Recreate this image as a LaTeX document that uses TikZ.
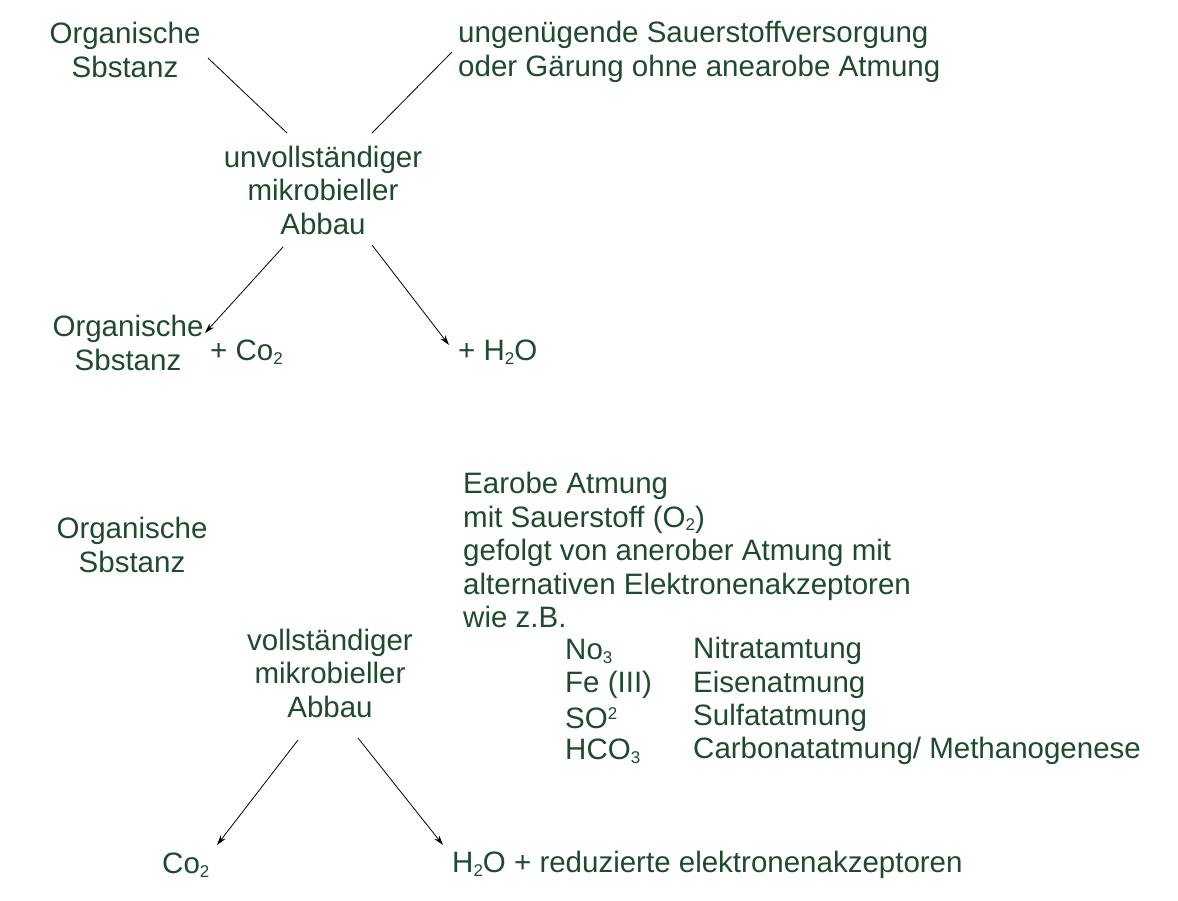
\documentclass[tikz,border=0pt]{standalone}
\usepackage{fontspec}
\setmainfont{Liberation Sans}
\usetikzlibrary{arrows.meta}
\definecolor{tg}{HTML}{1F4A2E}
\newcommand{\lsub}[1]{\raisebox{-0.25ex}{\fontsize{17}{17}\selectfont #1}}
\newcommand{\lsup}[1]{\raisebox{0.6ex}{\fontsize{17}{17}\selectfont #1}}
\begin{document}
\begin{tikzpicture}[x=1pt,y=-1pt,
  every node/.style={text=tg,font=\fontsize{29.5}{33.5}\selectfont,inner sep=0pt},
  cl/.style={align=center},
  ll/.style={align=left,anchor=west},
  ln/.style={draw=black,line width=0.8pt},
  ar/.style={ln,-{Stealth[length=10pt,width=6pt]}}]
\useasboundingbox (0,0) rectangle (1178,900);
\node[cl] (os1) at (125,50) {Organische\\Sbstanz};
\node[ll] (sauer) at (458,52) {ungenügende Sauerstoffversorgung\\oder Gärung ohne anearobe Atmung};
\node[cl] (ab1) at (323,190) {unvollständiger\\mikrobieller\\Abbau};
\coordinate (a1) at (208,58); \coordinate (a2) at (287,133);
\coordinate (b1) at (452,52); \coordinate (b2) at (372,133);
\draw[ln] (a1) -- (a2); \draw[ln] (b1) -- (b2);
\node[cl] (os2) at (128,343) {Organische\\Sbstanz};
\node[ll] (co1) at (210,352) {+ Co\lsub{2}};
\node[ll] (h1) at (458,352) {+ H\lsub{2}O};
\coordinate (c1) at (283,247); \coordinate (c2) at (205,333);
\coordinate (d1) at (372,245); \coordinate (d2) at (449,345);
\draw[ar] (c1) -- (c2); \draw[ar] (d1) -- (d2);
\node[cl] (os3) at (132,545) {Organische\\Sbstanz};
\node[cl] (ab2) at (330,673) {vollständiger\\mikrobieller\\Abbau};
\node[ll,anchor=north west] (ea) at (463,472) {Earobe Atmung\\mit Sauerstoff (O\lsub{2})\\gefolgt von anerober Atmung mit\\alternativen Elektronenakzeptoren\\wie z.B.};
\node[ll] (n1) at (565,651) {No\lsub{3}};
\node[ll] (n2) at (565,685) {Fe (III)};
\node[ll] (n3) at (565,718) {SO\lsup{2}};
\node[ll] (n4) at (565,751) {HCO\lsub{3}};
\node[ll] (m1) at (693,651) {Nitratamtung};
\node[ll] (m2) at (693,685) {Eisenatmung};
\node[ll] (m3) at (693,718) {Sulfatatmung};
\node[ll] (m4) at (693,751) {Carbonatatmung/ Methanogenese};
\node[ll] (co2) at (162,865) {Co\lsub{2}};
\node[ll] (h2) at (452,865) {H\lsub{2}O + reduzierte elektronenakzeptoren};
\coordinate (e1) at (298,740); \coordinate (e2) at (217,845);
\coordinate (f1) at (358,738); \coordinate (f2) at (443,845);
\draw[ar] (e1) -- (e2); \draw[ar] (f1) -- (f2);
\end{tikzpicture}
\end{document}
